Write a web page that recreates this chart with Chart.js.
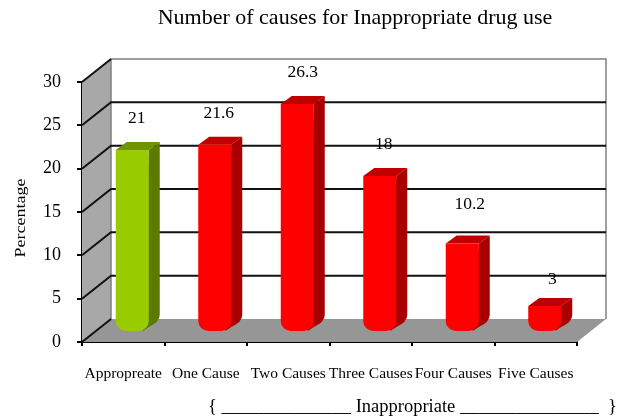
<!DOCTYPE html>
<html>
<head>
<meta charset="utf-8">
<title>Number of causes for Inappropriate drug use</title>
<style>
  html, body { margin: 0; padding: 0; background: #fff; }
  #wrap { width: 625px; height: 418px; }
</style>
<script src="https://cdn.jsdelivr.net/npm/chart.js@4"></script>
</head>
<body>
<div id="wrap"><canvas id="chart-causes"></canvas></div>
<script>
// chart values
const categories = ["Appropreate", "One Cause", "Two Causes", "Three Causes", "Four Causes", "Five Causes"];
const percentages = [21, 21.6, 26.3, 18, 10.2, 3];
const yTicks = [0, 5, 10, 15, 20, 25, 30];
const chartTitle = "Number of causes for Inappropriate drug use";
const axisTitle = "Percentage";
const groupLabel = "{ ______________ Inappropriate _______________  }";

const serif = '"Liberation Serif", "Times New Roman", serif';

// depth of the box and of the bars, in px
const boxDepth = { x: 29, y: 23 };
const barShift = { x: 9, y: 10 };
const barDepth = { x: 11, y: 8 };

// value labels are placed by hand, they do not follow the bars evenly
const labelNudge = [[4.5, 32], [4, 31], [5.5, 32], [4, 32], [7.5, 39], [7.5, 27]];

function faceColors(index) {
  if (index === 0) {
    return { front: "#99cc00", side: "#5c7a00", top: "#6f9400" };
  }
  return { front: "#ff0000", side: "#a80000", top: "#c00000" };
}

function fillPoly(ctx, color, points) {
  ctx.beginPath();
  points.forEach((p, i) => (i ? ctx.lineTo(p[0], p[1]) : ctx.moveTo(p[0], p[1])));
  ctx.closePath();
  ctx.fillStyle = color;
  ctx.fill();
}

// walls, floor and the gridlines that wrap round them
const boxPlugin = {
  id: "box3d",
  beforeDatasetsDraw(chart) {
    const ctx = chart.ctx;
    const { left, right, top, bottom } = chart.chartArea;
    const dx = boxDepth.x;
    const dy = boxDepth.y;
    const yScale = chart.scales.y;

    ctx.save();
    fillPoly(ctx, "#ffffff", [[left + dx, top - dy], [right + dx, top - dy], [right + dx, bottom - dy], [left + dx, bottom - dy]]);
    fillPoly(ctx, "#a8a8a8", [[left, top], [left + dx, top - dy], [left + dx, bottom - dy], [left, bottom]]);
    fillPoly(ctx, "#969696", [[left, bottom], [left + dx, bottom - dy], [right + dx, bottom - dy], [right, bottom]]);

    // outline of the back wall
    ctx.strokeStyle = "#808080";
    ctx.lineWidth = 1.5;
    ctx.beginPath();
    ctx.moveTo(left + dx, bottom - dy);
    ctx.lineTo(left + dx, top - dy);
    ctx.lineTo(right + dx, top - dy);
    ctx.lineTo(right + dx, bottom - dy);
    ctx.stroke();

    ctx.strokeStyle = "#111111";
    ctx.lineWidth = 2;
    yTicks.forEach((t) => {
      const y = yScale.getPixelForValue(t);
      ctx.beginPath();
      ctx.moveTo(left, y);
      ctx.lineTo(left + dx, y - dy);
      if (t > 0 && t < 30) {
        ctx.lineTo(right + dx, y - dy);
      }
      ctx.stroke();
    });
    ctx.restore();
  },
  // bar side and top faces, then move the front faces into the box
  beforeDatasetDraw(chart, args) {
    const ctx = chart.ctx;
    const bars = chart.getDatasetMeta(args.index).data;
    ctx.save();
    ctx.translate(barShift.x, -barShift.y);
    bars.forEach((bar, i) => {
      const c = faceColors(i);
      const half = bar.width / 2;
      const l = bar.x - half;
      const r = bar.x + half;
      const sideEnd = r + barDepth.x;
      const topY = bar.y - barDepth.y;
      fillPoly(ctx, c.top, [[l, bar.y], [l + barDepth.x, topY], [sideEnd, topY], [r, bar.y]]);
      // side face, its foot follows the round bottom of the bar
      ctx.beginPath();
      ctx.moveTo(r, bar.y);
      ctx.lineTo(sideEnd, topY);
      ctx.lineTo(sideEnd, bar.base - barDepth.y - 8);
      ctx.quadraticCurveTo(sideEnd, bar.base - barDepth.y - 1, r, bar.base - 4);
      ctx.lineTo(r - 6, bar.base);
      ctx.closePath();
      ctx.fillStyle = c.side;
      ctx.fill();
    });
  },
  afterDatasetDraw(chart) {
    chart.ctx.restore();
  },
  // value labels, titles and the bracket line under the categories
  afterDatasetsDraw(chart) {
    const ctx = chart.ctx;
    const bars = chart.getDatasetMeta(0).data;
    ctx.save();
    ctx.fillStyle = "#000";
    ctx.textAlign = "center";
    ctx.textBaseline = "middle";
    ctx.font = "17.5px " + serif;
    bars.forEach((bar, i) => {
      const x = bar.x + barShift.x + labelNudge[i][0];
      const y = bar.y - barShift.y - labelNudge[i][1];
      ctx.fillText(String(percentages[i]), x, y);
    });

    ctx.textBaseline = "alphabetic";
    ctx.font = "22px " + serif;
    ctx.fillText(chartTitle, 355, 24);

    ctx.font = "18.5px " + serif;
    ctx.textAlign = "left";
    ctx.fillText(groupLabel, 208, 412);

    // axis title, a narrow size stretched along the axis
    ctx.save();
    ctx.translate(25, 218);
    ctx.rotate(-Math.PI / 2);
    ctx.scale(1.2, 1);
    ctx.textAlign = "center";
    ctx.font = "15px " + serif;
    ctx.fillText(axisTitle, 0, 0);
    ctx.restore();
    ctx.restore();
  }
};

new Chart(document.getElementById("chart-causes"), {
  type: "bar",
  data: {
    labels: categories,
    datasets: [{
      data: percentages,
      backgroundColor: percentages.map((v, i) => faceColors(i).front),
      borderWidth: 0,
      borderSkipped: false,
      borderRadius: { topLeft: 0, topRight: 0, bottomLeft: 10, bottomRight: 10 },
      barPercentage: 0.4,
      categoryPercentage: 1,
      clip: false
    }]
  },
  options: {
    responsive: true,
    maintainAspectRatio: false,
    animation: false,
    layout: { padding: { left: 12, right: 48, top: 82, bottom: 0 } },
    plugins: {
      legend: { display: false },
      tooltip: { enabled: false },
      title: { display: false }
    },
    scales: {
      x: {
        afterFit(scale) { scale.height = 76; },
        grid: {
          display: true,
          drawOnChartArea: false,
          drawTicks: true,
          tickLength: 4,
          color: "#000",
          lineWidth: 2
        },
        border: { color: "#000", width: 2 },
        ticks: {
          color: "#000",
          font: { family: serif, size: 15.5 },
          padding: 19,
          maxRotation: 0,
          autoSkip: false
        }
      },
      y: {
        min: 0,
        max: 30,
        afterFit(scale) { scale.width = 70; },
        afterBuildTicks(scale) { scale.ticks = yTicks.map((v) => ({ value: v })); },
        grid: {
          display: true,
          drawOnChartArea: false,
          tickLength: 5,
          color: "#000",
          lineWidth: 2
        },
        border: { color: "#000", width: 2 },
        ticks: {
          color: "#000",
          font: { family: serif, size: 18 },
          padding: 16
        }
      }
    }
  },
  plugins: [boxPlugin]
});
</script>
</body>
</html>
